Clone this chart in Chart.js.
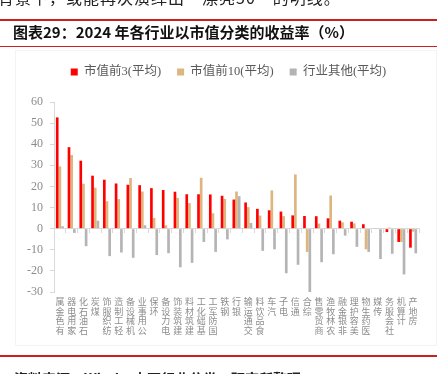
<!DOCTYPE html>
<html><head><meta charset="utf-8">
<script src="https://cdn.jsdelivr.net/npm/chart.js@4.4.1/dist/chart.umd.min.js"></script>
<style>
html,body{margin:0;padding:0;background:#fff;width:444px;height:374px;overflow:hidden;position:relative;}
.abs{position:absolute;white-space:nowrap;}
#wrap{position:absolute;left:0;top:0;width:444px;height:374px;}
</style></head><body>
<div class="abs" style="left:15px;top:50px;width:422px;height:296px;border:1px solid #f3f3f3;box-sizing:border-box;"></div>
<div id="wrap"><canvas id="c" width="444" height="374"></canvas></div>
<div class="abs" style="left:-2px;top:-11px;font:16px/16px 'Noto Sans CJK SC';letter-spacing:1px;color:#222;">背景下，或能再次演绎出“漂亮50”的明线。</div>
<div class="abs" style="left:0;top:19px;width:437px;height:2px;background:#cc1f1f;"></div>
<div class="abs" style="left:13px;top:24px;font:bold 15px/15px 'Noto Sans CJK SC';color:#111;">图表29：2024 年各行业以市值分类的收益率（%）</div>
<div class="abs" style="left:0;top:46px;width:437px;height:1px;background:#cc1f1f;"></div>
<div class="abs" style="left:0;top:355px;width:437px;height:1.5px;background:#cc1f1f;"></div>
<div class="abs" style="left:14px;top:371px;font:bold 14px/14px 'Noto Sans CJK SC';color:#222;">资料来源：Wind，申万行业分类，研究所整理</div>
<script>
const categories = ['有色金属','家用电器','石油石化','煤炭','纺织服饰','轻工制造','机械设备','公用事业','环保','电力设备','建筑装饰','建筑材料','基础化工','国防军工','钢铁','银行','交通运输','食品饮料','汽车','电子','通信','综合','商贸零售','农林牧渔','非银金融','美容护理','医药生物','传媒','社会服务','计算机','房地产'];
const seriesNames = ['市值前3(平均)','市值前10(平均)','行业其他(平均)'];
const top3 = [52.7,38.6,32.2,25.1,23.2,21.4,20.8,20.6,19.2,18.3,17.5,16.3,16.3,16.2,15.6,13.8,12.4,9.4,8.7,8.1,6.3,6.0,5.9,4.9,3.8,3.3,2.1,0.2,-1.6,-6.3,-9.0];
const top10 = [29.5,34.9,21.3,19.4,13.0,14.0,24.0,17.6,5.1,1.6,14.6,12.1,24.1,7.3,14.1,17.6,10.2,6.2,18.1,5.9,25.7,-11.0,2.4,15.7,3.0,2.5,-9.8,0.1,0.5,-6.3,-1.4];
const others = [1.1,-2.0,-8.3,3.8,-13.0,-11.3,-13.8,1.6,-12.5,-11.6,-18.3,-16.2,-6.3,-11.0,-5.1,15.4,2.7,-10.5,-9.8,-21.1,-17.1,-30.5,-15.9,-12.1,-3.3,-8.6,-11.0,-14.4,-11.9,-21.7,-11.7];
const yMin = -30, yMax = 60, yStep = 10;

const verticalLabels = categories.map(c => c.split('').reverse());
const colors = ['#ff0000', '#dcb57f', '#b4b4b4'];
const values = [top3, top10, others];

new Chart(document.getElementById('c'), {
  type: 'bar',
  data: {
    labels: verticalLabels,
    datasets: values.map((v, i) => ({
      label: seriesNames[i], data: v, backgroundColor: colors[i], borderWidth: 0,
      categoryPercentage: 0.68, barPercentage: 1.0, xAxisID: 'x', yAxisID: 'y'
    }))
  },
  options: {
    responsive: false,
    animation: false,
    devicePixelRatio: 1,
    layout: { padding: { left: 13, right: 0, top: 49.75, bottom: 0 } },
    plugins: {
      tooltip: { enabled: false },
      legend: {
        position: 'top',
        labels: {
          boxWidth: 7, boxHeight: 7, padding: 16, color: '#595959',
          font: { family: "'Liberation Serif', 'Noto Sans CJK SC'", size: 12.5 }
        }
      },
      subtitle: { display: true, text: '', weight: 500, font: { size: 10, lineHeight: 1 }, padding: { top: 0, bottom: 3.75 } }
    },
    scales: {
      x: {
        type: 'category', position: 'bottom', offset: true,
        grid: { display: false, offset: true, drawTicks: false },
        border: { display: false },
        ticks: {
          autoSkip: false, maxRotation: 0, minRotation: 0, padding: 5, color: '#8c8c8c',
          font: { family: "'Noto Sans CJK SC'", size: 9, lineHeight: 1.07 }
        },
        afterFit: s => { s.height = 82; }
      },
      x2: {
        type: 'category', labels: verticalLabels, position: { y: 0 }, offset: true,
        grid: { display: true, offset: true, drawOnChartArea: false, drawTicks: true, tickLength: 4, color: '#d9d9d9' },
        border: { display: true, color: '#d9d9d9', width: 1 },
        ticks: { display: false },
        afterFit: s => { s.height = 0; }
      },
      y: {
        min: yMin, max: yMax,
        grid: { drawOnChartArea: false, drawTicks: true, tickLength: 4, color: '#d9d9d9' },
        border: { display: true, color: '#d9d9d9' },
        ticks: { stepSize: yStep, padding: 7, color: '#8c8c8c', font: { family: "'Liberation Serif'", size: 12 } },
        afterFit: s => { s.width = 41; }
      },
      yRight: {
        type: 'linear', position: 'right', min: yMin, max: yMax,
        grid: { display: false }, border: { display: false }, ticks: { display: false },
        afterFit: s => { s.width = 25; }
      }
    }
  }
});
</script>
</body></html>
